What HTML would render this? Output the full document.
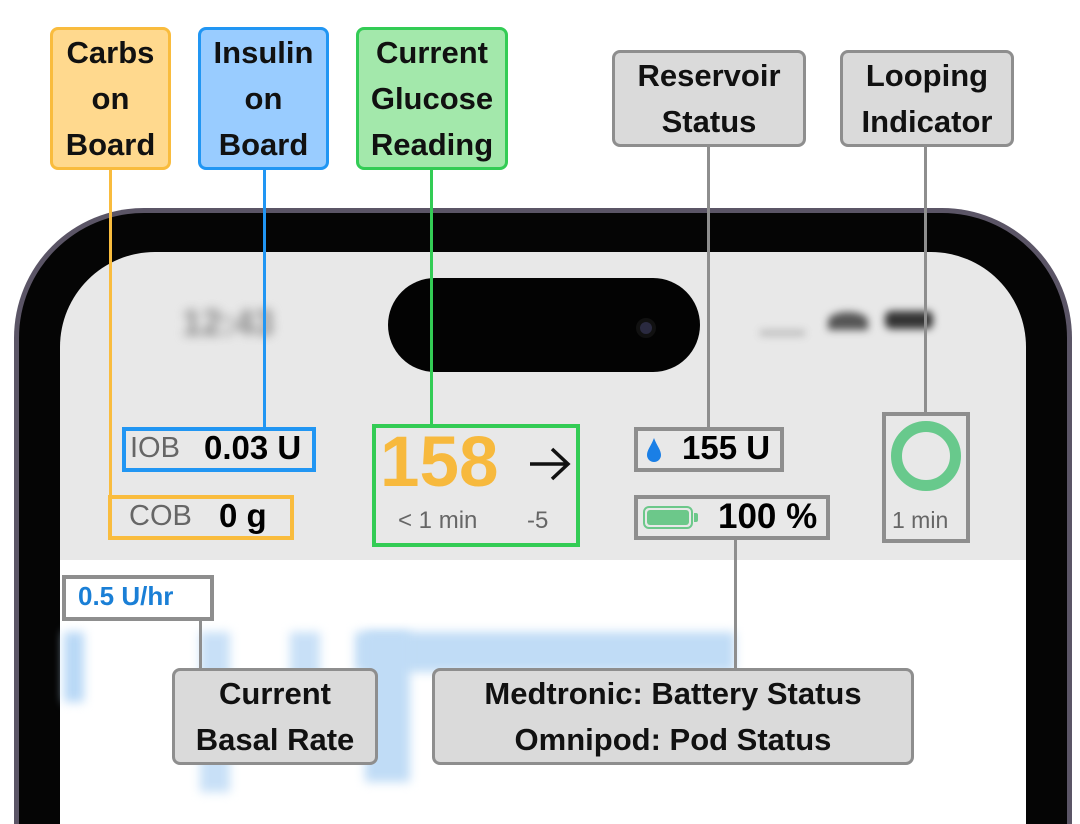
<!DOCTYPE html>
<html><head><meta charset="utf-8"><style>
*{margin:0;padding:0;box-sizing:border-box}
html,body{width:1080px;height:824px;overflow:hidden}
body{background:#fff;position:relative;font-family:"Liberation Sans",sans-serif}
#w{position:absolute;left:0;top:0;width:1080px;height:824px;overflow:hidden}
.a{position:absolute}
.lbl{position:absolute;display:flex;align-items:center;justify-content:center;text-align:center;font-weight:bold;font-size:31px;line-height:46px;color:#111;border:3px solid;border-radius:8px}
.g{background:#dadada;border-color:#8e8e8e}
.ln{position:absolute;width:3px}
.box{position:absolute;border:4px solid}
</style></head><body><div id="w">
<!-- phone -->
<div class="a" style="left:14px;top:208px;width:1058px;height:616px;border-radius:130px 130px 0 0;background:#5b5566"></div>
<div class="a" style="left:19px;top:213px;width:1048px;height:611px;border-radius:125px 125px 0 0;background:#050505"></div>
<div class="a" style="left:60px;top:252px;width:966px;height:572px;border-radius:95px 95px 0 0;background:#e8e8e8"></div>
<div class="a" style="left:60px;top:560px;width:966px;height:264px;background:#fff"></div>
<!-- blurred bars -->
<div class="a" style="left:64px;top:632px;width:20px;height:70px;background:#b8d8f6;filter:blur(5px)"></div>
<div class="a" style="left:200px;top:632px;width:30px;height:160px;background:#c8e0f7;filter:blur(5px)"></div>
<div class="a" style="left:290px;top:632px;width:30px;height:60px;background:#c8e0f7;filter:blur(5px)"></div>
<div class="a" style="left:355px;top:632px;width:380px;height:40px;background:#c0dcf6;filter:blur(5px)"></div>
<div class="a" style="left:365px;top:632px;width:45px;height:150px;background:#c0dcf6;filter:blur(5px)"></div>
<!-- status bar blurred -->
<div class="a" style="left:182px;top:302px;font-size:36px;font-weight:bold;color:#888;filter:blur(5px)">12:43</div>
<div class="a" style="left:760px;top:330px;width:45px;height:6px;background:#bbb;filter:blur(4px)"></div>
<div class="a" style="left:828px;top:312px;width:40px;height:18px;background:#555;filter:blur(4px);border-radius:50% 50% 0 0"></div>
<div class="a" style="left:885px;top:311px;width:48px;height:18px;background:#333;filter:blur(4px);border-radius:6px"></div>
<!-- island -->
<div class="a" style="left:388px;top:278px;width:312px;height:94px;border-radius:47px;background:#030303"></div>
<div class="a" style="left:636px;top:318px;width:20px;height:20px;border-radius:50%;background:#2a2a40;border:4px solid #111"></div>

<!-- connector lines -->
<div class="ln" style="left:109px;top:168px;height:349px;background:#f9bc3e"></div>
<div class="ln" style="left:263px;top:168px;height:262px;background:#2196f3"></div>
<div class="ln" style="left:430px;top:168px;height:258px;background:#33cc55"></div>
<div class="ln" style="left:707px;top:145px;height:285px;background:#8e8e8e"></div>
<div class="ln" style="left:924px;top:145px;height:270px;background:#8e8e8e"></div>
<div class="ln" style="left:199px;top:618px;height:52px;background:#8e8e8e"></div>
<div class="ln" style="left:734px;top:538px;height:132px;background:#8e8e8e"></div>

<!-- data boxes -->
<div class="box" style="left:122px;top:427px;width:194px;height:45px;border-color:#2196f3;background:#e8e8e8"></div>
<div class="a" style="left:130px;top:432px;font-size:29px;color:#666">IOB</div>
<div class="a" style="left:204px;top:429px;font-size:33px;font-weight:bold;color:#000">0.03 U</div>
<div class="box" style="left:108px;top:495px;width:186px;height:45px;border-color:#f9bc3e;background:#e8e8e8"></div>
<div class="a" style="left:129px;top:500px;font-size:29px;color:#666">COB</div>
<div class="a" style="left:219px;top:497px;font-size:33px;font-weight:bold;color:#000">0 g</div>
<div class="box" style="left:372px;top:424px;width:208px;height:123px;border-color:#33cc55;background:#e8e8e8"></div>
<div class="a" style="left:380px;top:422px;font-size:71px;font-weight:bold;color:#f7b93d;line-height:82px">158</div>
<svg class="a" style="left:528px;top:446px" width="44" height="36"><path d="M2 18 H40 M24 3 L40 18 L24 33" fill="none" stroke="#111" stroke-width="3.5"/></svg>
<div class="a" style="left:398px;top:507px;font-size:24px;color:#666">&lt; 1 min</div>
<div class="a" style="left:527px;top:507px;font-size:24px;color:#666">-5</div>
<div class="box" style="left:634px;top:427px;width:150px;height:45px;border-color:#8e8e8e;background:#e8e8e8"></div>
<svg class="a" style="left:643px;top:436px" width="22" height="28"><path d="M11 2 C8 10 4 14 4 19 A7 7 0 0 0 18 19 C18 14 14 10 11 2Z" fill="#1a7fe6"/></svg>
<div class="a" style="left:682px;top:429px;font-size:33px;font-weight:bold;color:#000">155 U</div>
<div class="box" style="left:634px;top:495px;width:196px;height:45px;border-color:#8e8e8e;background:#e8e8e8"></div>
<div class="a" style="left:643px;top:506px;width:50px;height:23px;border:2px solid #6cc88a;border-radius:6px;padding:2px"><div style="width:100%;height:100%;background:#6cc88a;border-radius:3px"></div></div>
<div class="a" style="left:694px;top:513px;width:4px;height:9px;background:#6cc88a;border-radius:0 2px 2px 0"></div>
<div class="a" style="left:718px;top:497px;font-size:35px;font-weight:bold;color:#000">100 %</div>
<div class="box" style="left:882px;top:412px;width:88px;height:131px;border-color:#8e8e8e;background:#e8e8e8"></div>
<div class="a" style="left:891px;top:421px;width:70px;height:70px;border-radius:50%;border:11px solid #68c98c"></div>
<div class="a" style="left:892px;top:507px;font-size:23px;color:#666">1 min</div>
<div class="box" style="left:62px;top:575px;width:152px;height:46px;border-color:#8e8e8e;background:#fff"></div>
<div class="a" style="left:78px;top:581px;font-size:26px;font-weight:bold;color:#1a7fd6">0.5 U/hr</div>

<!-- labels -->
<div class="lbl" style="left:50px;top:27px;width:121px;height:143px;background:#ffd98e;border-color:#f9bc3e">Carbs<br>on<br>Board</div>
<div class="lbl" style="left:198px;top:27px;width:131px;height:143px;background:#99ccff;border-color:#2196f3">Insulin<br>on<br>Board</div>
<div class="lbl" style="left:356px;top:27px;width:152px;height:143px;background:#a3e8ab;border-color:#33cc55">Current<br>Glucose<br>Reading</div>
<div class="lbl g" style="left:612px;top:50px;width:194px;height:97px">Reservoir<br>Status</div>
<div class="lbl g" style="left:840px;top:50px;width:174px;height:97px">Looping<br>Indicator</div>
<div class="lbl g" style="left:172px;top:668px;width:206px;height:97px">Current<br>Basal Rate</div>
<div class="lbl g" style="left:432px;top:668px;width:482px;height:97px">Medtronic: Battery Status<br>Omnipod: Pod Status</div>
</div></body></html>
